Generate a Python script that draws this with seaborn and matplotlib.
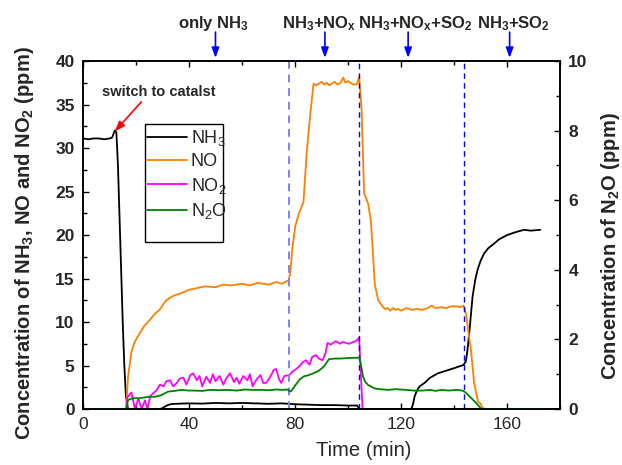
import pandas as pd
import matplotlib
matplotlib.use("Agg")
import matplotlib.pyplot as plt
import seaborn as sns
from matplotlib.ticker import MultipleLocator
from matplotlib.lines import Line2D
from matplotlib.patches import Rectangle

# NH3 (left axis, ppm)
nh3_t = [0, 2, 4, 6, 8, 10, 11, 12, 12.6, 13.2, 13.8, 14.4, 15, 15.6, 16.2, 17,
         20, 25, 29, 30, 31, 32, 33, 35,
         40, 45, 50, 55, 60, 65, 70, 75, 80, 85, 90, 95, 100, 103.5,
         104.3, 105, 110, 115, 120, 123.9,
         124.5, 125.1, 126, 127, 128.9, 131, 133.9, 137, 140.1, 142, 143.6,
         144.5, 145.1, 146, 147, 148, 148.9, 150, 151.4, 153, 155.1, 157, 160.1, 163, 166.4, 169, 172.6]
nh3_v = [31.1, 31.0, 31.1, 31.1, 31.0, 31.1, 31.2, 32.0, 31.8, 28, 22, 16, 10, 5, 1.5, 0,
         0, 0, 0, 0.1, 0.3, 0.45, 0.55, 0.6,
         0.65, 0.62, 0.7, 0.65, 0.7, 0.65, 0.6, 0.65, 0.55, 0.5, 0.45, 0.45, 0.4, 0.4,
         0, 0, 0, 0, 0, 0,
         0.5, 1.4, 2.1, 2.6, 3.0, 3.6, 4.1, 4.4, 4.7, 4.9, 5.06,
         5.5, 6.8, 9.5, 12.9, 14.8, 16.0, 17.0, 17.9, 18.5, 19.0, 19.5, 20.0, 20.3, 20.6, 20.5, 20.6]

# NO (left axis, ppm)
no_t = [0, 16.3, 17, 18.3, 19.5, 21.4, 23, 25.1, 27, 28.9,
        31.4, 34, 37, 40, 43, 46, 50, 53, 56, 60,
        63, 66, 70, 73, 75, 77.6, 78.2, 79, 80.1, 81.5,
        83.2, 84.5, 85.8, 87, 88, 89, 90.1, 91, 92, 93,
        93.9, 95, 96, 97.2, 98.2, 99, 100, 100.8, 102, 103.3,
        104.2, 105.1, 106.1, 107.6, 108.6, 109.4, 110.1, 111.4, 113, 114,
        115, 116, 117, 118, 119, 120, 122, 124, 126, 128,
        130.1, 131.6, 133, 135, 137, 139, 141, 142.5, 143.6, 144.5,
        145.7, 146.4, 147.6, 149.1, 149.9, 151.1, 155, 160, 165, 172.6]
no_v = [0, 0, 3.7, 6.6, 7.7, 8.7, 9.5, 10.2, 10.9, 11.4,
        12.5, 13.0, 13.3, 13.7, 13.9, 14.1, 14.0, 14.3, 14.2, 14.4,
        14.2, 14.5, 14.3, 14.6, 14.4, 14.8, 15.6, 18.5, 21.0, 22.5,
        23.8, 29.8, 34, 37.4, 37.2, 37.4, 37.6, 37.3, 37.5, 37.2,
        37.4, 37.6, 37.3, 37.5, 38.1, 37.5, 37.7, 37.5, 37.3, 37.3,
        38.2, 34.7, 24.8, 23.6, 21.7, 18, 14.4, 12.5, 11.8, 11.5,
        11.6, 11.3, 11.6, 11.4, 11.5, 11.3, 11.6, 11.4, 11.5, 11.4,
        11.6, 11.9, 11.6, 11.7, 11.6, 11.8, 11.8, 11.7, 11.9, 11.0,
        8.3, 6.8, 2.95, 0.85, 0.65, 0, 0, 0, 0, 0]

# NO2 (left axis, ppm)
no2_t = [0, 16.3, 16.8, 18.3, 19.6, 20.9, 22.1, 23.4, 24.3, 25.4,
         26.5, 27.9, 29, 30.4, 31.5, 32.9, 34, 35.4, 36.5, 37.9,
         39, 40.5, 41.6, 43, 44, 45, 46.5, 48, 49, 50,
         51.5, 53, 54, 55.5, 57, 58, 59, 60.5, 62, 63,
         64, 65.5, 67, 68, 69.1, 70.5, 72, 72.9, 74, 74.8,
         76, 77.9, 79, 80.5, 81.6, 83, 84.1, 85.5, 86.5, 87.9,
         89, 90.4, 91.5, 92.3, 93.5, 95.4, 97, 98, 99.2, 100.5,
         102, 103, 104.2, 105.5, 110, 120, 130, 140, 150, 160, 172.6]
no2_v = [0, 0, 1.4, 1.9, 0, 1.2, 0, 1.0, 0, 1.5,
         1.8, 2.2, 2.8, 2.6, 3.2, 3.3, 2.6, 3.0, 3.5, 3.6,
         2.8, 3.9, 4.1, 3.3, 3.8, 2.6, 3.7, 3.0, 4.0, 3.2,
         3.8, 2.8, 3.5, 4.1, 3.1, 3.6, 2.9, 3.8, 3.3, 4.0,
         2.6, 3.4, 3.9, 3.0, 3.0, 3.6, 4.5, 4.6, 3.4, 3.0,
         3.8, 3.9, 4.3, 4.6, 4.9, 5.4, 5.6, 5.1, 6.0, 6.2,
         5.8, 5.6, 6.4, 7.6, 7.4, 7.8, 7.5, 7.7, 7.6, 7.5,
         7.7, 7.8, 8.2, 0, 0, 0, 0, 0, 0, 0, 0]

# N2O (right axis, ppm)
n2o_t = [0, 16.4, 17, 18.9, 20.9, 23, 25, 27.1, 29.6, 32.1,
         34.5, 37.1, 40, 42.1, 45, 48, 51, 54.6, 58, 61,
         64, 67.1, 70, 73, 75.5, 77.1, 78.4, 79.2, 80.3, 81.8,
         83.4, 85, 87.1, 89, 90.9, 92.8, 95, 97.1, 99, 101,
         103, 104.3, 104.8, 105.7, 106.5, 107.6, 110.1, 112, 115.1, 118,
         121.9, 125, 128.1, 131, 133, 135.1, 138, 141, 143.2, 144.5,
         146.3, 148.2, 150.1, 151, 160, 172.6]
n2o_v = [0, 0, 0.26, 0.31, 0.31, 0.33, 0.35, 0.35, 0.40, 0.50,
         0.52, 0.55, 0.53, 0.53, 0.52, 0.55, 0.54, 0.55, 0.53, 0.56,
         0.55, 0.55, 0.54, 0.56, 0.55, 0.56, 0.50, 0.58, 0.70, 0.85,
         0.94, 0.97, 1.03, 1.10, 1.22, 1.43, 1.45, 1.45, 1.46, 1.47,
         1.47, 1.48, 1.30, 0.93, 0.78, 0.69, 0.59, 0.57, 0.55, 0.57,
         0.55, 0.53, 0.53, 0.55, 0.52, 0.55, 0.53, 0.55, 0.53, 0.47,
         0.33, 0.19, 0.02, 0, 0, 0]

switch_times = [77.6, 104.2, 143.6]
stage_labels = ["only NH$_3$", "NH$_3$+NO$_x$", "NH$_3$+NO$_x$+SO$_2$", "NH$_3$+SO$_2$"]
stage_arrow_x = [50, 91.3, 122.7, 161]
stage_text_x = [49.1, 89.2, 125.6, 162.4]

series_names = ["NH$_3$", "NO", "NO$_2$", "N$_2$O"]
colors = ["black", "#ff8000", "#ff00ff", "#008000"]

sns.set_style("ticks")
plt.rcParams["font.family"] = ["Liberation Sans", "DejaVu Sans"]
plt.rcParams["mathtext.default"] = "regular"

fig = plt.figure(figsize=(6.22, 4.65), dpi=100)
ax = fig.add_axes([0.1334, 0.1204, 0.7669, 0.7484])
ax2 = ax.twinx()

left_sets = [(nh3_t, nh3_v), (no_t, no_v), (no2_t, no2_v)]
for (t, v), c in zip(left_sets, colors[:3]):
    df = pd.DataFrame({"t": t, "v": v})
    sns.lineplot(data=df, x="t", y="v", ax=ax, color=c, lw=1.3, estimator=None)
df = pd.DataFrame({"t": n2o_t, "v": n2o_v})
sns.lineplot(data=df, x="t", y="v", ax=ax2, color=colors[3], lw=1.3, estimator=None)

# phase switch lines
ax.axvline(switch_times[0], color="#8080ff", ls=(0, (4, 3)), lw=1.4)
for xv in switch_times[1:]:
    ax.axvline(xv, color="#0000ff", ls=(0, (4, 3)), lw=1.0)

ax.set_xlim(0, 180)
ax.set_ylim(0, 40)
ax2.set_ylim(0, 10)
ax.set_xticks([0, 40, 80, 120, 160])
ax.xaxis.set_minor_locator(MultipleLocator(20))
ax.yaxis.set_major_locator(MultipleLocator(5))
ax.yaxis.set_minor_locator(MultipleLocator(2.5))
ax2.yaxis.set_major_locator(MultipleLocator(2))
ax2.yaxis.set_minor_locator(MultipleLocator(1))

ax.xaxis.set_ticks_position("both")
ax.tick_params(which="both", direction="in", top=True, right=False, width=1, color="black")
ax.tick_params(which="major", length=4)
ax.tick_params(which="minor", length=3)
ax.tick_params(axis="x", labelsize=12.5, pad=6)
ax.tick_params(axis="y", labelsize=12.5, pad=6)
ax2.tick_params(which="both", direction="in", left=False, right=True, width=1, color="black")
ax2.tick_params(which="major", length=4, labelsize=12.5, pad=6)
ax2.tick_params(which="minor", length=3)
for lab in ax.get_yticklabels() + ax2.get_yticklabels():
    lab.set_fontweight("bold")

for a in (ax, ax2):
    for s in a.spines.values():
        s.set_linewidth(1.2)
        s.set_color("black")

ax.set_xlabel("Time (min)", fontsize=14.5)
ax.xaxis.set_label_coords(0.589, -0.092)
ax.set_ylabel("Concentration of NH$_3$, NO and NO$_2$ (ppm)", fontsize=14.5, fontweight="bold")
ax.yaxis.set_label_coords(-0.0985, 0.477)
ax2.set_ylabel("Concentration of N$_2$O (ppm)", fontsize=14.5, fontweight="bold")
ax2.yaxis.set_label_coords(1.082, 0.468)

# stage annotations above the plot
trans = ax.get_xaxis_transform()
for xa, xt, s in zip(stage_arrow_x, stage_text_x, stage_labels):
    ax.annotate("", xy=(xa, 1.009), xycoords=trans, xytext=(xa, 1.083), textcoords=trans,
                arrowprops=dict(arrowstyle="-|>,head_length=0.6,head_width=0.22", color="blue",
                                lw=1.2, shrinkA=0, shrinkB=0), annotation_clip=False)
    ax.text(xt, 1.095, s, transform=trans, ha="center", va="baseline", fontsize=12, fontweight="bold")

ax.annotate("", xy=(12.0, 31.9), xytext=(22.0, 35.3),
            arrowprops=dict(arrowstyle="-|>,head_length=0.6,head_width=0.22", color="red",
                            lw=1.2, shrinkA=0, shrinkB=0))
ax.text(28.5, 36.4, "switch to catalst", ha="center", va="center", fontsize=10.5, fontweight="bold")

# legend: tall box with empty space at the bottom, like the original
ax2.add_patch(Rectangle((0.130, 0.480), 0.1635, 0.339, transform=ax2.transAxes,
                        facecolor="white", edgecolor="black", lw=1.0, zorder=4))
handles = [Line2D([], [], color=c, lw=1.3) for c in colors]
leg = ax2.legend(handles, series_names, loc="upper left", bbox_to_anchor=(0.131, 0.813),
                 fontsize=13, frameon=False, borderpad=0.1, handlelength=2.2,
                 handletextpad=0.2, labelspacing=0.3, borderaxespad=0)
leg.set_zorder(5)

fig.savefig("out.png", dpi=100)
